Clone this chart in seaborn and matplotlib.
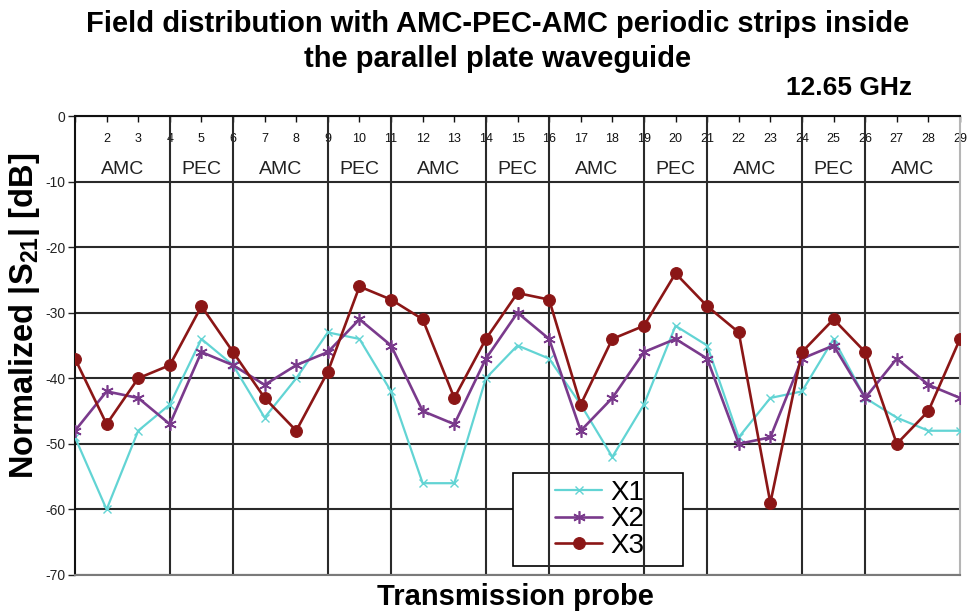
import seaborn as sns
import matplotlib.pyplot as plt
import pandas as pd
from matplotlib.patches import Rectangle

# transmission probe positions and normalized |S21| values (dB)
probe = list(range(1, 30))
x1 = [-49, -60, -48, -44, -34, -38, -46, -40, -33, -34, -42, -56, -56, -40, -35,
      -37, -44, -52, -44, -32, -35, -49, -43, -42, -34, -43, -46, -48, -48]
x2 = [-48, -42, -43, -47, -36, -38, -41, -38, -36, -31, -35, -45, -47, -37, -30,
      -34, -48, -43, -36, -34, -37, -50, -49, -37, -35, -43, -37, -41, -43]
x3 = [-37, -47, -40, -38, -29, -36, -43, -48, -39, -26, -28, -31, -43, -34, -27,
      -28, -44, -34, -32, -24, -29, -33, -59, -36, -31, -36, -50, -45, -34]

# strip boundaries and the strip type between them
bounds = [1, 4, 6, 9, 11, 14, 16, 19, 21, 24, 26, 29]
strips = ["AMC", "PEC", "AMC", "PEC", "AMC", "PEC", "AMC", "PEC", "AMC", "PEC", "AMC"]

sns.set_style("white")
plt.rcParams["font.family"] = ["Liberation Sans", "DejaVu Sans"]
plt.rcParams["axes.unicode_minus"] = False
plt.rcParams["mathtext.fontset"] = "custom"
plt.rcParams["mathtext.rm"] = "Liberation Sans"
plt.rcParams["mathtext.bf"] = "Liberation Sans:bold"
plt.rcParams["text.color"] = "black"
plt.rcParams["axes.labelcolor"] = "black"

df = pd.DataFrame({"probe": probe, "X1": x1, "X2": x2, "X3": x3})

fig = plt.figure(figsize=(9.67, 6.13), dpi=100)
ax = fig.add_axes([75 / 967, 1 - 575 / 613, 885 / 967, 459 / 613])

styles = {
    "X1": dict(color="#62d4d4", marker="x", markersize=6, linewidth=1.6,
               markeredgewidth=1.0, markeredgecolor="#62d4d4"),
    "X2": dict(color="#7a3a8c", marker=(6, 2, 0), markersize=9, linewidth=1.9,
               markeredgewidth=1.2, markeredgecolor="#7a3a8c"),
    "X3": dict(color="#8b1616", marker="o", markersize=8.5, linewidth=1.9,
               markeredgecolor="#8b1616"),
}
for name, st in styles.items():
    sns.lineplot(data=df, x="probe", y=name, ax=ax, label=name, zorder=3, **st)

ax.set_xlim(1, 29)
ax.set_ylim(-70, 0)
ax.set_yticks(range(-70, 1, 10))
ax.set_xticks(probe)
ax.set_xticklabels([""] + [str(p) for p in probe[1:]])

ax.xaxis.tick_top()
ax.tick_params(axis="x", direction="in", length=4, width=1, pad=-21,
               labelsize=9, colors="#111111")
ax.tick_params(axis="y", direction="out", length=5, width=1, pad=2,
               labelsize=10, colors="#222222", left=True)

# horizontal grid
ax.grid(axis="y", color="#2a2a2a", linewidth=1.5, zorder=0.5)
ax.grid(axis="x", visible=False)
ax.set_axisbelow(True)
# vertical strip boundaries
ax.vlines(bounds[1:-1], -70, 0, color="#2a2a2a", linewidth=1.5, zorder=2)

for s in ["top", "left"]:
    ax.spines[s].set_color("#111111")
    ax.spines[s].set_linewidth(1.5)
ax.spines["right"].set_color("#b5b5b5")
ax.spines["right"].set_linewidth(1.5)
ax.spines["bottom"].set_color("#7a7a7a")
ax.spines["bottom"].set_linewidth(1.5)

for a, b, lab in zip(bounds[:-1], bounds[1:], strips):
    ax.text((a + b) / 2, -8.1, lab, ha="center", va="center", fontsize=14, color="#222222")

# legend box (vertical boundaries stay visible through it)
ax.add_patch(Rectangle((14.86, -68.6), 5.38, 14.15, facecolor="white",
                       edgecolor="black", linewidth=1.2, zorder=1.5))
ax.legend(loc="center", bbox_to_anchor=(17.6, -61.5), bbox_transform=ax.transData,
          frameon=False, fontsize=20, labelspacing=0.02, handlelength=1.7,
          handletextpad=0.3, borderpad=0.1)

ax.set_xlabel("Transmission probe", fontsize=21, fontweight="bold")
ax.xaxis.set_label_position("bottom")
ax.xaxis.set_label_coords(0.498, -0.017)
ax.set_ylabel(r"Normalized |S$_{\mathbf{21}}$| [dB]", fontsize=23.5, fontweight="bold")
ax.yaxis.set_label_coords(-0.037, 0.564)

fig.text(498 / 967, 1 - 10 / 613,
         "Field distribution with AMC-PEC-AMC periodic strips inside\nthe parallel plate waveguide",
         ha="center", va="top", fontsize=21, fontweight="bold", linespacing=1.32)
fig.text(912 / 967, 1 - 88 / 613, "12.65 GHz", ha="right", va="center",
         fontsize=19, fontweight="bold")

fig.savefig("out.png", dpi=100)
